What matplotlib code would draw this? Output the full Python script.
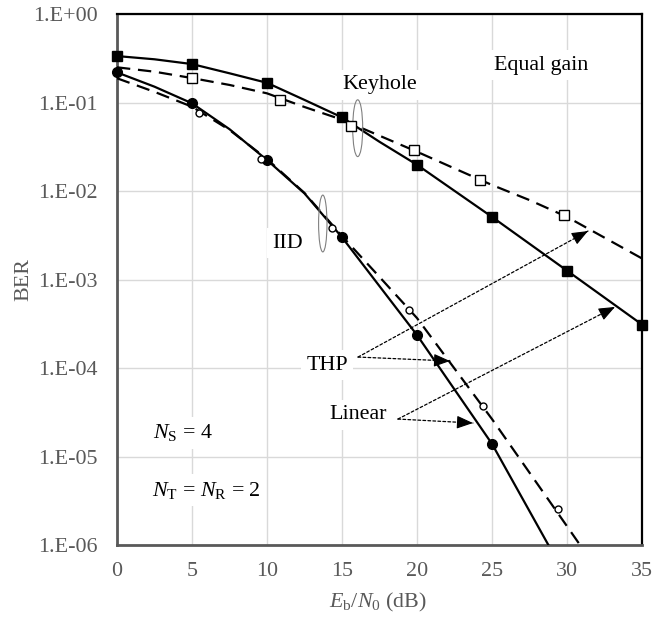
import matplotlib
matplotlib.use('Agg')
import matplotlib.pyplot as plt
from matplotlib.patches import Ellipse
import numpy as np

plt.rcParams['font.family'] = 'Liberation Serif'
plt.rcParams['mathtext.fontset'] = 'custom'
plt.rcParams['mathtext.rm'] = 'Liberation Serif'
plt.rcParams['mathtext.it'] = 'Liberation Serif:italic'

# analytical curves (lines)
keyhole_thp_x = [0, 2.5, 5, 7.5, 10, 12.5, 15, 17.5, 20, 25, 30, 35]
keyhole_thp_ber = [0.335, 0.308, 0.272, 0.214, 0.167, 0.107, 0.068, 0.036, 0.0198, 0.0051, 0.00126, 3.1e-4]

keyhole_lin_x = [0, 2.5, 5, 7.5, 10, 12.5, 15, 20, 22.5, 25, 27.5, 30, 35]
keyhole_lin_ber = [0.25, 0.223, 0.189, 0.158, 0.127, 0.089, 0.064, 0.0278, 0.018, 0.0117, 0.0079, 0.0051, 0.00173]

iid_thp_x = [0, 2.5, 5, 7.5, 10, 12.5, 15, 20, 25, 30]
iid_thp_ber = [0.219, 0.151, 0.098, 0.05, 0.0224, 9.4e-3, 3.0e-3, 2.36e-4, 1.39e-5, 4.2e-7]

iid_lin_x = [0, 2.5, 5, 7.5, 10, 12.5, 15, 17.5, 20, 25, 30, 31]
iid_lin_ber = [0.188, 0.132, 0.0897, 0.049, 0.023, 9.5e-3, 3.1e-3, 1.07e-3, 3.67e-4, 2.65e-5, 1.63e-6, 9.3e-7]

# simulated points (markers)
keyhole_thp_sim_x = [0, 5, 10, 15, 20, 25, 30, 35]
keyhole_thp_sim_ber = [0.335, 0.272, 0.167, 0.068, 0.0198, 0.0051, 0.00126, 3.1e-4]

keyhole_lin_sim_x = [5.0, 10.9, 15.6, 19.8, 24.2, 29.8]
keyhole_lin_sim_ber = [0.189, 0.108, 0.0547, 0.0293, 0.0133, 0.0053]

iid_thp_sim_x = [0, 5, 10, 15, 20, 25]
iid_thp_sim_ber = [0.219, 0.098, 0.0224, 3.0e-3, 2.36e-4, 1.39e-5]

iid_lin_sim_x = [5.5, 9.6, 14.35, 19.5, 24.4, 29.4]
iid_lin_sim_ber = [0.077, 0.0228, 3.85e-3, 4.5e-4, 3.7e-5, 2.55e-6]

x_ticks = [0, 5, 10, 15, 20, 25, 30, 35]
y_exps = [0, -1, -2, -3, -4, -5, -6]

gray = '#595959'
dash = (0, (6, 3.5))

fig = plt.figure(figsize=(6.67, 6.18), dpi=100)
ax = fig.add_axes([0.1754, 0.1181, 0.7871, 0.8592])

ax.plot(keyhole_thp_x, keyhole_thp_ber, color='black', lw=1.6, zorder=3)
ax.plot(keyhole_lin_x, keyhole_lin_ber, color='black', lw=1.6, ls=dash, zorder=3)
ax.plot(iid_thp_x, iid_thp_ber, color='black', lw=1.6, zorder=3)
ax.plot(iid_lin_x, iid_lin_ber, color='black', lw=1.6, ls=dash, zorder=3)

ax.plot(keyhole_thp_sim_x, keyhole_thp_sim_ber, 's', color='black', ms=7.5, ls='none', zorder=5, clip_on=False)
ax.plot(keyhole_lin_sim_x, keyhole_lin_sim_ber, 's', mfc='white', mec='black', mew=1, ms=7, ls='none', zorder=5, clip_on=False)
ax.plot(iid_thp_sim_x, iid_thp_sim_ber, 'o', color='black', ms=7, ls='none', zorder=5, clip_on=False)
ax.plot(iid_lin_sim_x, iid_lin_sim_ber, 'o', mfc='white', mec='black', mew=1, ms=5, ls='none', zorder=5, clip_on=False)

ax.set_yscale('log')
ax.set_xlim(0, 35)
ax.set_ylim(1e-6, 1)
ax.set_xticks(x_ticks)
ax.set_xticklabels([str(t) for t in x_ticks])
ax.set_yticks([10.0 ** e for e in y_exps])
ax.set_yticklabels([f'1.E{e:+03d}' for e in y_exps])
ax.minorticks_off()
ax.tick_params(axis='both', length=0, labelsize=15.8, labelcolor=gray)
ax.tick_params(axis='y', pad=14)
ax.tick_params(axis='x', pad=12)
ax.grid(True, color='#d9d9d9', lw=1, zorder=0)
ax.set_axisbelow(True)

for side in ['left', 'bottom']:
    ax.spines[side].set_color(gray)
    ax.spines[side].set_linewidth(2)
for side in ['top', 'right']:
    ax.spines[side].set_color('black')
    ax.spines[side].set_linewidth(1.6)

ax.set_ylabel('BER', fontsize=15.8, color=gray)
ax.yaxis.set_label_coords(-0.16, 0.5)
ax.set_xlabel(r'$\mathit{E}_\mathrm{b}/\mathit{N}_0$ (dB)', fontsize=15.8, color=gray)
ax.xaxis.set_label_coords(0.497, -0.087)

box = dict(facecolor='white', edgecolor='none', pad=4)
ax.text(17.5, 0.158, 'Keyhole', fontsize=15.8, ha='center', va='center', bbox=box, zorder=2)
ax.text(11.4, 2.58e-3, 'IID', fontsize=15.8, ha='center', va='center', bbox=box, zorder=2)
ax.text(28.3, 0.265, 'Equal gain', fontsize=15.8, ha='center', va='center', bbox=box, zorder=2)
ax.text(14.0, 1.08e-4, 'THP', fontsize=15.8, ha='center', va='center', bbox=box, zorder=2)
ax.text(16.1, 2.95e-5, 'Linear', fontsize=15.8, ha='center', va='center', bbox=box, zorder=2)
ax.text(2.4, 1.86e-5, r'$\mathit{N}_\mathrm{S}$ = 4', fontsize=15.8, ha='left', va='center', bbox=box, zorder=2)
ax.text(2.33, 4.17e-6, r'$\mathit{N}_\mathrm{T}$ = $\mathit{N}_\mathrm{R}$ = 2', fontsize=15.8, ha='left', va='center', bbox=box, zorder=2)

# grouping ellipses
for cx, cy, w in [(0.4585, 0.785, 0.019), (0.392, 0.6055, 0.016)]:
    ax.add_patch(Ellipse((cx, cy), w, 0.107, transform=ax.transAxes,
                         fill=False, edgecolor='#808080', lw=0.8, zorder=4))

# dotted pointer arrows: dotted shaft plus a solid filled head
shaft = dict(arrowstyle='-', linestyle=(0, (2.2, 1.8)), lw=0.9, color='black',
             shrinkA=0, shrinkB=0)
head = dict(arrowstyle='-|>,head_length=0.5,head_width=0.2', lw=0.8, color='black',
            mutation_scale=20, shrinkA=0, shrinkB=0)
for start, end in [((16.07, 1.33e-4), (31.4, 3.53e-3)),
                   ((16.07, 1.33e-4), (22.2, 1.2e-4)),
                   ((18.73, 2.65e-5), (33.2, 4.9e-4)),
                   ((18.73, 2.65e-5), (23.73, 2.39e-5))]:
    ax.annotate('', xy=end, xytext=start, arrowprops=shaft, zorder=6)
    near = (start[0] + 0.97 * (end[0] - start[0]),
            10 ** (np.log10(start[1]) + 0.97 * (np.log10(end[1]) - np.log10(start[1]))))
    ax.annotate('', xy=end, xytext=near, arrowprops=head, zorder=6)

fig.savefig('out.png', dpi=100)
